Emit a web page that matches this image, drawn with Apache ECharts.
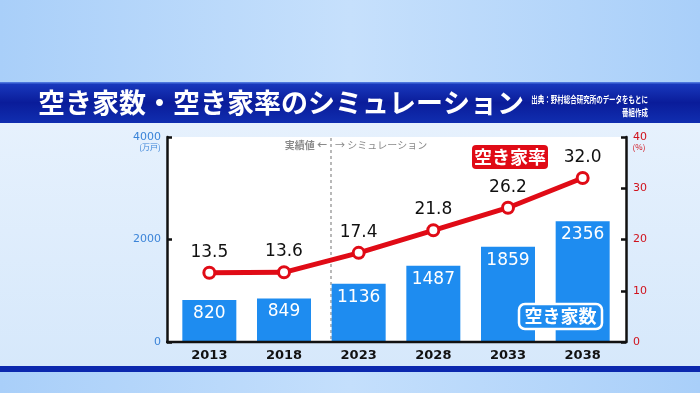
<!DOCTYPE html>
<html>
<head>
<meta charset="utf-8">
<script src="https://cdn.jsdelivr.net/npm/echarts@6/dist/echarts.min.js"></script>
<style>
html,body{margin:0;padding:0;background:#dcecfc;}
#chart{width:700px;height:393px;}
</style>
</head>
<body>
<div id="chart"></div>
<script>
const years = ['2013', '2018', '2023', '2028', '2033', '2038'];
const vacantHomes = [820, 849, 1136, 1487, 1859, 2356];   // 万戸
const vacancyRate = [13.5, 13.6, 17.4, 21.8, 26.2, 32.0]; // %
const leftTicks = [0, 2000, 4000];
const rightTicks = [0, 10, 20, 30, 40];

const BLUE = '#1e8cf0';
const RED = '#e00b16';
const NUM_FONT = '"DejaVu Sans", sans-serif';
const JP_FONT = '"Noto Sans CJK JP", sans-serif';

const chart = echarts.init(document.getElementById('chart'), null, {renderer: 'canvas'});

const option = {
  animation: false,
  backgroundColor: '#dcecfc',
  grid: {left: 172, right: 80, top: 137, bottom: 51},
  xAxis: {
    type: 'category',
    data: years,
    axisLine: {show: false},
    axisTick: {show: false},
    axisLabel: {color: '#111', fontSize: 13, fontWeight: 'bold', fontFamily: NUM_FONT, margin: 7}
  },
  yAxis: [
    {
      type: 'value', position: 'left', offset: 5,
      min: leftTicks[0], max: leftTicks[leftTicks.length - 1], interval: leftTicks[1] - leftTicks[0],
      axisLine: {show: true, lineStyle: {color: '#111', width: 2.5}},
      axisTick: {show: true, inside: true, length: 5, lineStyle: {color: '#111', width: 2.5}},
      splitLine: {show: false},
      axisLabel: {color: '#3b84d8', fontSize: 11, fontFamily: NUM_FONT, margin: 6,
                  formatter: v => String(v)}
    },
    {
      type: 'value', position: 'right', offset: 6,
      min: rightTicks[0], max: rightTicks[rightTicks.length - 1], interval: rightTicks[1] - rightTicks[0],
      axisLine: {show: true, lineStyle: {color: '#111', width: 2.5}},
      axisTick: {show: true, inside: true, length: 5, lineStyle: {color: '#111', width: 2.5}},
      splitLine: {show: false},
      axisLabel: {color: '#d0121c', fontSize: 11, fontFamily: NUM_FONT, margin: 7,
                  formatter: v => String(v)}
    }
  ],
  series: [
    {
      name: '空き家数', type: 'bar', yAxisIndex: 0, data: vacantHomes,
      barWidth: 54, z: 3,
      itemStyle: {color: BLUE},
      label: {show: true, position: 'insideTop', distance: 5, color: '#fff',
              fontSize: 17, fontFamily: NUM_FONT}
    },
    {
      name: '空き家率', type: 'line', yAxisIndex: 1, data: vacancyRate, z: 5,
      lineStyle: {color: RED, width: 5},
      symbol: 'circle', symbolSize: 11,
      itemStyle: {color: '#fff', borderColor: RED, borderWidth: 3},
      label: {show: true, position: 'top', distance: 5, color: '#111', fontSize: 17,
              fontFamily: NUM_FONT, formatter: p => p.value.toFixed(1)}
    }
  ],
  graphic: [
    // backgrounds
    {type: 'rect', z: -10, silent: true, shape: {x: 0, y: 0, width: 700, height: 82},
     style: {fill: new echarts.graphic.LinearGradient(0, 0, 1, 0, [
       {offset: 0, color: '#a9cff9'}, {offset: 0.5, color: '#c6e0fc'}, {offset: 1, color: '#a9cff9'}])}},
    {type: 'rect', z: -10, silent: true, shape: {x: 0, y: 123, width: 700, height: 244},
     style: {fill: new echarts.graphic.LinearGradient(0, 0, 0, 1, [
       {offset: 0, color: '#e6f1fd'}, {offset: 1, color: '#d6e8fb'}])}},
    {type: 'rect', z: -10, silent: true, shape: {x: 0, y: 82, width: 700, height: 41},
     style: {fill: new echarts.graphic.LinearGradient(0, 0, 0, 1, [
       {offset: 0, color: '#5a86e6'}, {offset: 0.06, color: '#1838bc'},
       {offset: 0.5, color: '#0a1c9a'}, {offset: 1, color: '#102eb0'}])}},
    {type: 'rect', z: -10, silent: true, shape: {x: 0, y: 366, width: 700, height: 6},
     style: {fill: '#0b28ae'}},
    {type: 'rect', z: -10, silent: true, shape: {x: 0, y: 372, width: 700, height: 21},
     style: {fill: new echarts.graphic.LinearGradient(0, 0, 1, 0, [
       {offset: 0, color: '#a9cff9'}, {offset: 0.5, color: '#c4dffc'}, {offset: 1, color: '#a9cff9'}])}},
    // plot area white
    {type: 'rect', z: -5, silent: true, shape: {x: 167, y: 137, width: 459, height: 205},
     style: {fill: '#ffffff'}},
    // bottom frame line
    {type: 'line', z: 10, silent: true, shape: {x1: 166, y1: 342, x2: 627, y2: 342},
     style: {stroke: '#111', lineWidth: 2.5}},
    // divider
    {type: 'line', z: 1, silent: true, shape: {x1: 331, y1: 138, x2: 331, y2: 341},
     style: {stroke: '#8a8a8a', lineWidth: 1.2, lineDash: [3, 3]}},
    {type: 'text', z: 10, silent: true, style: {x: 327, y: 145, text: '実績値 ←', align: 'right',
     verticalAlign: 'middle', fill: '#8a8a8a', font: 'bold 10px ' + JP_FONT}},
    {type: 'text', z: 10, silent: true, style: {x: 335, y: 145, text: '→ シミュレーション', align: 'left',
     verticalAlign: 'middle', fill: '#8a8a8a', font: '10px ' + JP_FONT}},
    // title
    {type: 'text', z: 10, silent: true, style: {x: 38, y: 103, text: '空き家数・空き家率のシミュレーション',
     align: 'left', verticalAlign: 'middle', fill: '#ffffff', font: 'bold 27px ' + JP_FONT}},
    {type: 'group', z: 10, x: 648, y: 100, scaleX: 0.72, children: [
      {type: 'text', silent: true, style: {x: 0, y: 0, text: '出典：野村総合研究所のデータをもとに', align: 'right',
       verticalAlign: 'middle', fill: '#ffffff', font: 'bold 9px ' + JP_FONT}},
      {type: 'text', silent: true, style: {x: 0, y: 13, text: '番組作成', align: 'right',
       verticalAlign: 'middle', fill: '#ffffff', font: 'bold 9px ' + JP_FONT}}
    ]},
    // unit labels
    {type: 'text', z: 10, silent: true, style: {x: 150, y: 147, text: '(万戸)', align: 'center',
     verticalAlign: 'middle', fill: '#3b84d8', font: '8px ' + JP_FONT}},
    {type: 'text', z: 10, silent: true, style: {x: 639, y: 147, text: '(%)', align: 'center',
     verticalAlign: 'middle', fill: '#d0121c', font: '8px ' + JP_FONT}},
    // legend boxes
    {type: 'rect', z: 10, silent: true, shape: {x: 472, y: 145, width: 76, height: 24, r: 4},
     style: {fill: RED}},
    {type: 'text', z: 11, silent: true, style: {x: 510, y: 157, text: '空き家率', align: 'center',
     verticalAlign: 'middle', fill: '#fff', font: 'bold 18px ' + JP_FONT}},
    {type: 'rect', z: 10, silent: true, shape: {x: 519, y: 304, width: 83, height: 25, r: 6},
     style: {fill: BLUE, stroke: '#fff', lineWidth: 2.5}},
    {type: 'text', z: 11, silent: true, style: {x: 560.5, y: 316.5, text: '空き家数', align: 'center',
     verticalAlign: 'middle', fill: '#fff', font: 'bold 18px ' + JP_FONT}}
  ]
};
chart.setOption(option);
</script>
</body>
</html>
